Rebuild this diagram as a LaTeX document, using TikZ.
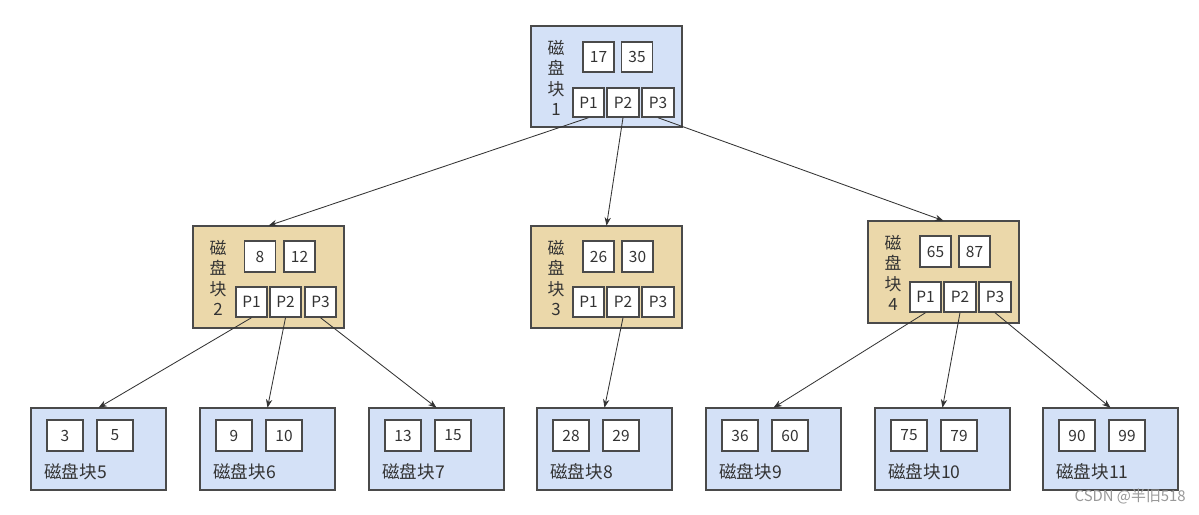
\documentclass[tikz,border=0pt]{standalone}
\usepackage{fontspec}
\setmainfont{Noto Sans CJK SC}
\usetikzlibrary{arrows.meta}
\definecolor{blk}{HTML}{D4E1F7}
\definecolor{tan}{HTML}{EBD8AA}
\definecolor{edge}{HTML}{4A4A4A}
\definecolor{txt}{HTML}{333333}
\tikzset{
  blue block/.style={draw=edge, fill=blk, line width=1pt},
  tan block/.style={draw=edge, fill=tan, line width=1pt},
  keybox/.style={draw=edge, fill=white, line width=1pt, inner sep=0pt, text=txt, font=\fontsize{11}{13}\selectfont},
  ptr/.style={draw=txt, line width=0.6pt, -{Stealth[length=6pt,width=4.5pt]}},
  lbl/.style={text=txt, font=\fontsize{12.5}{14}\selectfont, inner sep=0pt},
  vlbl/.style={text=txt, font=\fontsize{12}{14.4}\selectfont, inner sep=0pt, align=center},
}
\begin{document}
\begin{tikzpicture}[x=0.025cm,y=-0.025cm]
\useasboundingbox (0,0) rectangle (1199,514);
\fill[white] (0,0) rectangle (1199,514);

% ---------- upper blocks ----------
% root
\path[blue block] (531,26) rectangle (682,127);
\node[vlbl] (l1) at (556,78) {磁\\盘\\块\\1};
\node[keybox, minimum width=0.775cm, minimum height=0.75cm] (k17) at (598.5,57) {17};
\node[keybox, minimum width=0.775cm, minimum height=0.75cm] (k35) at (637,57) {35};
\node[keybox, minimum width=0.775cm, minimum height=0.725cm] (r1) at (588.5,102.5) {P1};
\node[keybox, minimum width=0.8cm, minimum height=0.725cm] (r2) at (623,102.5) {P2};
\node[keybox, minimum width=0.8cm, minimum height=0.725cm] (r3) at (658,102.5) {P3};

% block 2
\path[tan block] (193,226) rectangle (344,328);
\node[vlbl] (l2) at (218,278) {磁\\盘\\块\\2};
\node[keybox, minimum width=0.775cm, minimum height=0.775cm] (k8) at (260,256.5) {8};
\node[keybox, minimum width=0.775cm, minimum height=0.775cm] (k12) at (299.5,256.5) {12};
\node[keybox, minimum width=0.775cm, minimum height=0.75cm] (a1) at (251.5,302) {P1};
\node[keybox, minimum width=0.775cm, minimum height=0.75cm] (a2) at (285.5,302) {P2};
\node[keybox, minimum width=0.775cm, minimum height=0.75cm] (a3) at (320.5,302) {P3};

% block 3
\path[tan block] (531,226) rectangle (682,328);
\node[vlbl] (l3) at (556,278) {磁\\盘\\块\\3};
\node[keybox, minimum width=0.775cm, minimum height=0.775cm] (k26) at (598.5,256.5) {26};
\node[keybox, minimum width=0.775cm, minimum height=0.775cm] (k30) at (637.5,256.5) {30};
\node[keybox, minimum width=0.775cm, minimum height=0.75cm] (b1) at (588.5,302) {P1};
\node[keybox, minimum width=0.8cm, minimum height=0.75cm] (b2) at (623,302) {P2};
\node[keybox, minimum width=0.8cm, minimum height=0.75cm] (b3) at (658,302) {P3};

% block 4
\path[tan block] (868,221) rectangle (1019,323);
\node[vlbl] (l4) at (893,273) {磁\\盘\\块\\4};
\node[keybox, minimum width=0.775cm, minimum height=0.775cm] (k65) at (935.5,251.5) {65};
\node[keybox, minimum width=0.775cm, minimum height=0.775cm] (k87) at (974.5,251.5) {87};
\node[keybox, minimum width=0.775cm, minimum height=0.75cm] (c1) at (925.5,297) {P1};
\node[keybox, minimum width=0.8cm, minimum height=0.75cm] (c2) at (960,297) {P2};
\node[keybox, minimum width=0.8cm, minimum height=0.75cm] (c3) at (995,297) {P3};

% ---------- leaves ----------
\foreach \i/\x/\a/\b/\n in {5/31/3/5/5, 6/200/9/10/6, 7/369/13/15/7, 8/537/28/29/8, 9/706/36/60/9, 10/875/75/79/10, 11/1043/90/99/11}{
  \path[blue block] (\x,408) rectangle (\x+135,490);
  \node[inner sep=0pt, minimum width=3.375cm, minimum height=2.05cm] (leaf\i) at (\x+67.5,449) {};
  \node[keybox, minimum width=0.9cm, minimum height=0.775cm] (ka\i) at (\x+34,435.5) {\a};
  \node[keybox, minimum width=0.9cm, minimum height=0.775cm] (kb\i) at (\x+84,435.5) {\b};
  \node[lbl, anchor=west] (name\i) at (\x+13,472) {磁盘块\n};
}

% invisible anchors for the big upper blocks
\node[inner sep=0pt, minimum width=3.775cm, minimum height=2.55cm] (blk2) at (268.5,277) {};
\node[inner sep=0pt, minimum width=3.775cm, minimum height=2.55cm] (blk3) at (606.5,277) {};
\node[inner sep=0pt, minimum width=3.775cm, minimum height=2.55cm] (blk4) at (943.5,272) {};

% ---------- connectors ----------
\draw[ptr] (r1.south) -- (blk2.north);
\draw[ptr] (r2.south) -- (blk3.north);
\draw[ptr] (r3.south) -- (blk4.north);
\draw[ptr] (a1.south) -- (leaf5.north);
\draw[ptr] (a2.south) -- (leaf6.north);
\draw[ptr] (a3.south) -- (leaf7.north);
\draw[ptr] (b2.south) -- (leaf8.north);
\draw[ptr] (c1.south) -- (leaf9.north);
\draw[ptr] (c2.south) -- (leaf10.north);
\draw[ptr] (c3.south) -- (leaf11.north);

% watermark
\node[text=black!40, font=\fontsize{10.6}{12}\selectfont, anchor=east, inner sep=0pt] (wm) at (1186,497) {CSDN @半旧518};
\end{tikzpicture}
\end{document}
